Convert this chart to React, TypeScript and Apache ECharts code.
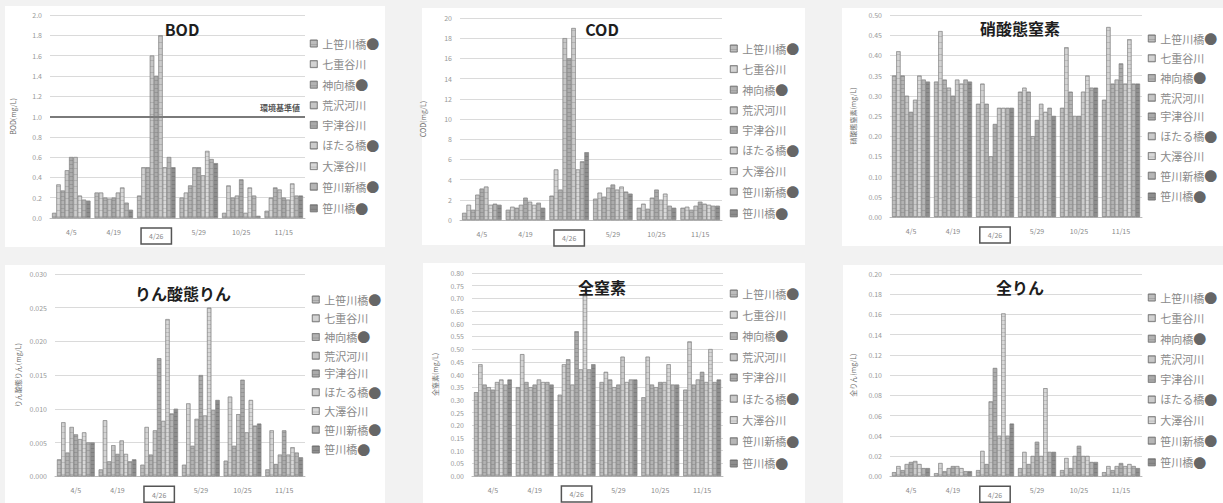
import React, { useEffect, useRef } from "react";
import * as echarts from "echarts";

const categories = ["4/5", "4/19", "4/26", "5/29", "10/25", "11/15"];
const stations = ["上笹川橋", "七重谷川", "神向橋", "荒沢河川", "宇津谷川", "ほたる橋", "大澤谷川", "笹川新橋", "笹川橋"];
const dotted = ["上笹川橋", "神向橋", "ほたる橋", "笹川新橋", "笹川橋"];

// values per category group (9 stations each)
const bod = [
  [0.05, 0.33, 0.27, 0.47, 0.6, 0.6, 0.22, 0.18, 0.17],
  [0.25, 0.25, 0.2, 0.19, 0.2, 0.25, 0.3, 0.15, 0.08],
  [0.22, 0.5, 0.5, 1.6, 1.4, 1.8, 0.5, 0.6, 0.5],
  [0.2, 0.25, 0.32, 0.5, 0.5, 0.42, 0.66, 0.58, 0.54],
  [0.05, 0.32, 0.2, 0.22, 0.38, 0.05, 0.3, 0.22, 0.02],
  [0.07, 0.2, 0.3, 0.28, 0.2, 0.18, 0.34, 0.22, 0.22],
];
const cod = [
  [0.7, 1.5, 1.0, 2.5, 3.1, 3.3, 1.5, 1.6, 1.5],
  [1.0, 1.3, 1.2, 1.5, 2.2, 1.8, 1.5, 1.7, 1.2],
  [2.4, 5.0, 3.0, 18.0, 16.0, 19.0, 5.0, 5.8, 6.7],
  [2.1, 2.7, 2.3, 3.2, 3.5, 3.0, 3.3, 2.8, 2.6],
  [1.2, 1.6, 1.1, 2.2, 3.0, 2.0, 2.6, 1.4, 1.2],
  [1.2, 1.3, 1.0, 1.4, 1.8, 1.6, 1.5, 1.4, 1.4],
];
const nitrate = [
  [0.35, 0.41, 0.35, 0.3, 0.26, 0.29, 0.35, 0.34, 0.335],
  [0.335, 0.46, 0.34, 0.32, 0.3, 0.34, 0.33, 0.34, 0.335],
  [0.28, 0.33, 0.28, 0.15, 0.23, 0.27, 0.27, 0.27, 0.27],
  [0.31, 0.32, 0.31, 0.2, 0.24, 0.28, 0.26, 0.27, 0.25],
  [0.27, 0.42, 0.31, 0.25, 0.25, 0.31, 0.35, 0.32, 0.32],
  [0.29, 0.47, 0.33, 0.34, 0.38, 0.33, 0.44, 0.33, 0.33],
];
const phosphate = [
  [0.0025, 0.008, 0.0035, 0.0073, 0.0062, 0.0055, 0.0065, 0.005, 0.005],
  [0.001, 0.0083, 0.0022, 0.0046, 0.0033, 0.0053, 0.0033, 0.0022, 0.0025],
  [0.0017, 0.0073, 0.0032, 0.0068, 0.0175, 0.0082, 0.0233, 0.0093, 0.01],
  [0.0017, 0.0108, 0.0045, 0.0085, 0.015, 0.009, 0.025, 0.0098, 0.0113],
  [0.0023, 0.0118, 0.0045, 0.0092, 0.0143, 0.0065, 0.0113, 0.0075, 0.0078],
  [0.001, 0.0068, 0.0018, 0.0032, 0.0068, 0.0032, 0.0043, 0.0035, 0.0028],
];
const totalN = [
  [0.33, 0.44, 0.36, 0.35, 0.34, 0.37, 0.38, 0.36, 0.38],
  [0.35, 0.48, 0.37, 0.35, 0.36, 0.38, 0.37, 0.37, 0.36],
  [0.32, 0.44, 0.46, 0.36, 0.57, 0.42, 0.72, 0.42, 0.44],
  [0.37, 0.41, 0.38, 0.35, 0.36, 0.47, 0.37, 0.38, 0.38],
  [0.31, 0.47, 0.36, 0.35, 0.37, 0.37, 0.44, 0.36, 0.36],
  [0.34, 0.53, 0.36, 0.38, 0.41, 0.37, 0.5, 0.37, 0.38],
];
const totalP = [
  [0.004, 0.01, 0.006, 0.012, 0.014, 0.015, 0.012, 0.008, 0.008],
  [0.003, 0.013, 0.005, 0.008, 0.01, 0.01, 0.008, 0.005, 0.005],
  [0.006, 0.025, 0.012, 0.074, 0.107, 0.04, 0.161, 0.04, 0.052],
  [0.008, 0.024, 0.012, 0.02, 0.034, 0.02, 0.087, 0.024, 0.024],
  [0.006, 0.018, 0.008, 0.02, 0.03, 0.02, 0.02, 0.014, 0.014],
  [0.004, 0.01, 0.006, 0.01, 0.013, 0.01, 0.012, 0.01, 0.008],
];

const titles = ["BOD", "COD", "硝酸態窒素", "りん酸態りん", "全窒素", "全りん"];
const yNames = ["BOD(mg/L)", "COD(mg/L)", "硝酸態窒素(mg/L)", "りん酸態りん(mg/L)", "全窒素(mg/L)", "全りん(mg/L)"];
const yMax = [2.0, 20, 0.5, 0.03, 0.8, 0.2];
const yStep = [0.2, 2, 0.05, 0.005, 0.05, 0.02];
const yDecimals = [1, 0, 2, 3, 2, 2];
const panelData = [bod, cod, nitrate, phosphate, totalN, totalP];
const standardValue = 1.0;

const colors = ["#bdbdbd", "#d3d3d3", "#b3b3b3", "#c6c6c6", "#ababab", "#cbcbcb", "#d8d8d8", "#b6b6b6", "#8e8e8e"];

const FONT = '"Noto Sans CJK JP", "Noto Sans", sans-serif';

// layout
const cards = [
  [5, 6, 380, 241], [422, 8, 383, 237], [842, 8, 381, 238],
  [5, 265, 380, 238], [423, 263, 382, 240], [843, 265, 380, 238],
];
const grids = [
  [50, 15, 255, 203], [460, 18, 262, 202], [890, 15, 252, 202],
  [55, 274, 250, 206], [472, 273, 251, 203], [890, 274, 252, 204],
];
const titlePos = [[182, 29], [602, 29], [1020, 28], [183, 293], [602, 287], [1020, 287]];
const legendPos = [[305, 32, 20.6], [725, 37, 20.6], [1143, 27, 19.75], [307, 288, 18.75], [725, 282, 21.25], [1143, 286, 20.6]];

export default function App() {
  const ref = useRef<HTMLDivElement>(null);
  useEffect(() => {
    if (!ref.current) return;
    const chart = echarts.init(ref.current, null, { renderer: "svg" });
    const series: any[] = [];
    panelData.forEach((pd, p) => {
      stations.forEach((st, i) => {
        const s: any = {
          type: "bar",
          name: st,
          xAxisIndex: p,
          yAxisIndex: p,
          data: pd.map((g) => g[i]),
          barGap: "0%",
          barCategoryGap: "10%",
          itemStyle: {
            color: colors[i],
            borderColor: "#8a8a8a",
            borderWidth: 0.5,
            decal: {
              symbol: "rect",
              symbolSize: 1,
              dashArrayX: [1, 0],
              dashArrayY: i % 2 === 0 ? [1, 3] : [1, 5],
              color: "rgba(0,0,0,0.12)",
            },
          },
        };
        if (p === 0 && i === 0) {
          s.markLine = {
            silent: true,
            symbol: "none",
            data: [{ yAxis: standardValue }],
            lineStyle: { color: "#7a7a7a", width: 2, type: "solid" },
            label: {
              formatter: "環境基準値",
              position: "insideEndTop",
              fontSize: 8,
              fontWeight: "bold",
              color: "#555",
              fontFamily: FONT,
            },
          };
        }
        series.push(s);
      });
    });

    const option: any = {
      animation: false,
      backgroundColor: "transparent",
      textStyle: { fontFamily: FONT },
      grid: grids.map(([l, t, w, h]) => ({ left: l, top: t, width: w, height: h })),
      xAxis: grids.map((_, p) => ({
        type: "category",
        gridIndex: p,
        data: categories,
        axisTick: { show: false },
        axisLine: { lineStyle: { color: "#bbb" } },
        axisLabel: {
          fontSize: 7,
          color: "#888",
          margin: 10,
          formatter: (v: string) => (v === "4/26" ? `{b|${v}}` : v),
          rich: {
            b: { borderColor: "#555", borderWidth: 1.5, padding: [5, 8, 4, 8], fontSize: 7, color: "#888" },
          },
        },
      })),
      yAxis: grids.map((_, p) => ({
        type: "value",
        gridIndex: p,
        min: 0,
        max: yMax[p],
        interval: yStep[p],
        name: yNames[p],
        nameLocation: "middle",
        nameRotate: 90,
        nameGap: 34,
        nameTextStyle: { fontSize: 7, color: "#666" },
        axisLine: { show: false },
        axisTick: { show: false },
        splitLine: { lineStyle: { color: "#dadada" } },
        axisLabel: {
          fontSize: 7,
          color: "#999",
          formatter: (v: number) => v.toFixed(yDecimals[p]),
        },
      })),
      legend: legendPos.map(([l, t, sp]) => ({
        left: l,
        top: t,
        orient: "vertical",
        data: stations,
        icon: "rect",
        itemWidth: 7,
        itemHeight: 7,
        itemGap: sp - 12,
        selectedMode: false,
        itemStyle: { borderColor: "#777", borderWidth: 0.6 },
        formatter: (name: string) => (dotted.includes(name) ? `{n|${name}}{d|●}` : `{n|${name}}`),
        textStyle: {
          rich: {
            n: { fontSize: 11, color: "#8a8a8a", lineHeight: 14, fontFamily: FONT },
            d: { fontSize: 13, color: "#666", lineHeight: 14, fontFamily: FONT },
          },
        },
      })),
      graphic: [
        ...cards.map(([x, y, w, h]) => ({
          type: "rect",
          z: -10,
          silent: true,
          shape: { x, y, width: w, height: h },
          style: { fill: "#ffffff" },
        })),
        ...titles.map((t, p) => ({
          type: "text",
          x: titlePos[p][0],
          y: titlePos[p][1],
          z: 10,
          style: {
            text: t,
            fontSize: 16,
            fontWeight: "bold",
            fill: "#1e1e1e",
            fontFamily: FONT,
            textAlign: "center",
            textVerticalAlign: "middle",
          },
        })),
      ],
      series,
    };
    chart.setOption(option);
    return () => chart.dispose();
  }, []);
  return (
    <div style={{ position: "fixed", left: 0, top: 0, width: 1223, height: 503, background: "#f2f2f2" }}>
      <div ref={ref} style={{ width: 1223, height: 503 }} />
    </div>
  );
}
